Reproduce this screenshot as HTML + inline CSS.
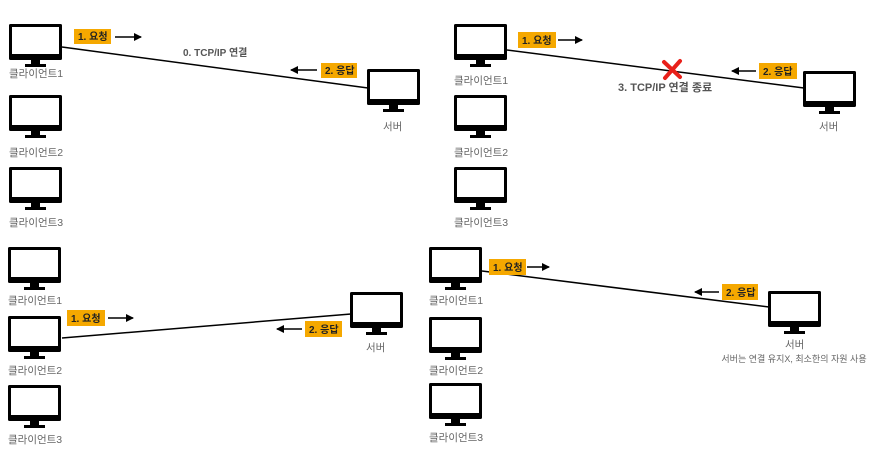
<!DOCTYPE html>
<html><head><meta charset="utf-8"><style>
html,body{margin:0;padding:0;background:#fff;}
svg{display:block;}
.l{font-family:"Liberation Sans","Noto Sans CJK KR",sans-serif;font-size:10.5px;fill:#666;}
.b{font-family:"Liberation Sans","Noto Sans CJK KR",sans-serif;font-size:10px;font-weight:bold;fill:#222;}
.g{font-family:"Liberation Sans","Noto Sans CJK KR",sans-serif;font-size:10px;font-weight:bold;fill:#555;}
</style></head><body>
<svg width="873" height="454" viewBox="0 0 873 454" xmlns="http://www.w3.org/2000/svg">
<defs>
<symbol id="m" viewBox="0 0 53 43" width="53" height="43">
<rect x="0" y="0" width="53" height="36" rx="1.5" fill="#000"/>
<rect x="3" y="3" width="47" height="27" fill="#fff"/>
<rect x="22" y="36" width="9" height="5" fill="#000"/>
<rect x="16" y="40" width="21" height="3" fill="#000"/>
</symbol>
<marker id="a" markerWidth="8" markerHeight="8" refX="7" refY="4" orient="auto" markerUnits="userSpaceOnUse">
<path d="M0,0 L8,4 L0,8 Z" fill="#000"/></marker>
</defs>

<!-- TL -->
<line x1="62" y1="47" x2="368" y2="88" stroke="#000" stroke-width="1.5"/>
<use href="#m" x="9" y="24"/>
<text class="l" x="9" y="77">클라이언트1</text>
<use href="#m" x="9" y="95"/>
<text class="l" x="9" y="156">클라이언트2</text>
<use href="#m" x="9" y="167"/>
<text class="l" x="9" y="226">클라이언트3</text>
<rect x="74" y="29" width="37" height="15" fill="#F5A800"/>
<text class="b" x="78" y="40">1. 요청</text>
<line x1="115" y1="37" x2="141" y2="37" stroke="#000" stroke-width="1.5" marker-end="url(#a)"/>
<text class="g" x="183" y="56">0. TCP/IP 연결</text>
<rect x="321" y="63" width="36" height="15" fill="#F5A800"/>
<text class="b" x="325" y="74">2. 응답</text>
<line x1="317" y1="70" x2="291" y2="70" stroke="#000" stroke-width="1.5" marker-end="url(#a)"/>
<use href="#m" x="367" y="69"/>
<text class="l" x="383" y="130">서버</text>

<!-- TR -->
<line x1="507" y1="50" x2="804" y2="88" stroke="#000" stroke-width="1.5"/>
<use href="#m" x="454" y="24"/>
<text class="l" x="454" y="84">클라이언트1</text>
<use href="#m" x="454" y="95"/>
<text class="l" x="454" y="156">클라이언트2</text>
<use href="#m" x="454" y="167"/>
<text class="l" x="454" y="226">클라이언트3</text>
<rect x="518" y="32" width="38" height="16" fill="#F5A800"/>
<text class="b" x="522" y="44">1. 요청</text>
<line x1="558" y1="40" x2="582" y2="40" stroke="#000" stroke-width="1.5" marker-end="url(#a)"/>
<path d="M664,62 L680,77 M680,61 L665,78" stroke="#E8201A" stroke-width="4" stroke-linecap="round"/>
<text class="g" x="618" y="91" style="font-size:11px">3. TCP/IP 연결 종료</text>
<rect x="759" y="63" width="38" height="16" fill="#F5A800"/>
<text class="b" x="763" y="75">2. 응답</text>
<line x1="756" y1="71" x2="732" y2="71" stroke="#000" stroke-width="1.5" marker-end="url(#a)"/>
<use href="#m" x="803" y="71"/>
<text class="l" x="819" y="130">서버</text>

<!-- BL -->
<line x1="62" y1="338" x2="351" y2="314" stroke="#000" stroke-width="1.5"/>
<use href="#m" x="8" y="247"/>
<text class="l" x="8" y="304">클라이언트1</text>
<use href="#m" x="8" y="316"/>
<text class="l" x="8" y="374">클라이언트2</text>
<use href="#m" x="8" y="385"/>
<text class="l" x="8" y="443">클라이언트3</text>
<rect x="67" y="310" width="38" height="16" fill="#F5A800"/>
<text class="b" x="71" y="322">1. 요청</text>
<line x1="108" y1="318" x2="133" y2="318" stroke="#000" stroke-width="1.5" marker-end="url(#a)"/>
<rect x="305" y="321" width="37" height="16" fill="#F5A800"/>
<text class="b" x="309" y="333">2. 응답</text>
<line x1="302" y1="329" x2="277" y2="329" stroke="#000" stroke-width="1.5" marker-end="url(#a)"/>
<use href="#m" x="350" y="292"/>
<text class="l" x="366" y="351">서버</text>

<!-- BR -->
<line x1="482" y1="271" x2="769" y2="307" stroke="#000" stroke-width="1.5"/>
<use href="#m" x="429" y="247"/>
<text class="l" x="429" y="304">클라이언트1</text>
<use href="#m" x="429" y="317"/>
<text class="l" x="429" y="374">클라이언트2</text>
<use href="#m" x="429" y="383"/>
<text class="l" x="429" y="441">클라이언트3</text>
<rect x="489" y="259" width="37" height="16" fill="#F5A800"/>
<text class="b" x="493" y="271">1. 요청</text>
<line x1="527" y1="267" x2="549" y2="267" stroke="#000" stroke-width="1.5" marker-end="url(#a)"/>
<rect x="722" y="284" width="36" height="16" fill="#F5A800"/>
<text class="b" x="726" y="296">2. 응답</text>
<line x1="719" y1="292" x2="695" y2="292" stroke="#000" stroke-width="1.5" marker-end="url(#a)"/>
<use href="#m" x="768" y="291"/>
<text class="l" x="785" y="348">서버</text>
<text class="l" x="794" y="362" text-anchor="middle" style="font-size:9px">서버는 연결 유지X, 최소한의 자원 사용</text>
</svg>
</body></html>
